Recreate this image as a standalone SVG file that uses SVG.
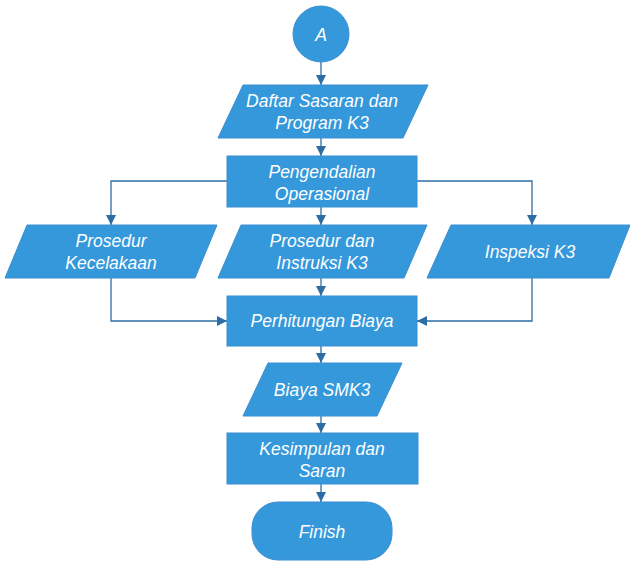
<svg xmlns="http://www.w3.org/2000/svg" width="630" height="562" viewBox="0 0 630 562">
<defs>
<style>
.n{fill:#3498DB;stroke:#3A8ED2;stroke-width:1}
.t{font-family:"Liberation Sans",Arial,sans-serif;font-style:italic;font-size:17.5px;fill:#FFFFFF;text-anchor:middle}
.c{fill:none;stroke:#2E6DA4;stroke-width:1.3}
</style>
<marker id="ah" viewBox="0 0 10 10" refX="10" refY="5" markerWidth="10" markerHeight="10" markerUnits="userSpaceOnUse" orient="auto">
<path d="M0,0 L10,5 L0,10 Z" fill="#2E6DA4"/>
</marker>
</defs>
<rect width="630" height="562" fill="#FFFFFF"/>
<g id="connectors">
<path class="c" d="M321,62 V85" marker-end="url(#ah)"/>
<path class="c" d="M321,138 V156" marker-end="url(#ah)"/>
<path class="c" d="M227,181 H111 V225" marker-end="url(#ah)"/>
<path class="c" d="M321,207 V225" marker-end="url(#ah)"/>
<path class="c" d="M417,181 H532 V225" marker-end="url(#ah)"/>
<path class="c" d="M111,278 V321 H227" marker-end="url(#ah)"/>
<path class="c" d="M321,278 V296" marker-end="url(#ah)"/>
<path class="c" d="M532,278 V321 H417" marker-end="url(#ah)"/>
<path class="c" d="M321,346 V363" marker-end="url(#ah)"/>
<path class="c" d="M321,416 V433" marker-end="url(#ah)"/>
<path class="c" d="M321,484 V502" marker-end="url(#ah)"/>
</g>
<g id="nodeA">
<circle class="n" cx="321" cy="34" r="28"/>
<text class="t" x="321" y="41" font-size="19">A</text>
</g>
<g id="daftar">
<polygon class="n" points="243,85 428,85 403,138 218,138"/>
<text class="t" x="322" y="107">Daftar Sasaran dan</text>
<text class="t" x="322" y="129">Program K3</text>
</g>
<g id="pengendalian">
<rect class="n" x="227" y="156" width="190" height="51"/>
<text class="t" x="322" y="178">Pengendalian</text>
<text class="t" x="322" y="200">Operasional</text>
</g>
<g id="prosedurKecelakaan">
<polygon class="n" points="27,225 217,225 195,278 5,278"/>
<text class="t" x="111" y="247">Prosedur</text>
<text class="t" x="111" y="269">Kecelakaan</text>
</g>
<g id="prosedurInstruksi">
<polygon class="n" points="241,225 427,225 404,278 218,278"/>
<text class="t" x="322" y="247">Prosedur dan</text>
<text class="t" x="322" y="269">Instruksi K3</text>
</g>
<g id="inspeksi">
<polygon class="n" points="451,225 630,225 609,278 427,278"/>
<text class="t" x="530" y="258">Inspeksi K3</text>
</g>
<g id="perhitungan">
<rect class="n" x="227" y="296" width="190" height="50"/>
<text class="t" x="322" y="327">Perhitungan Biaya</text>
</g>
<g id="biaya">
<polygon class="n" points="268,363 402,363 377,416 243,416"/>
<text class="t" x="322" y="396">Biaya SMK3</text>
</g>
<g id="kesimpulan">
<rect class="n" x="227" y="433" width="191" height="51"/>
<text class="t" x="322" y="455">Kesimpulan dan</text>
<text class="t" x="322" y="477">Saran</text>
</g>
<g id="finish">
<rect class="n" x="252" y="502" width="140" height="58" rx="26" ry="26"/>
<text class="t" x="322" y="538">Finish</text>
</g>
</svg>
